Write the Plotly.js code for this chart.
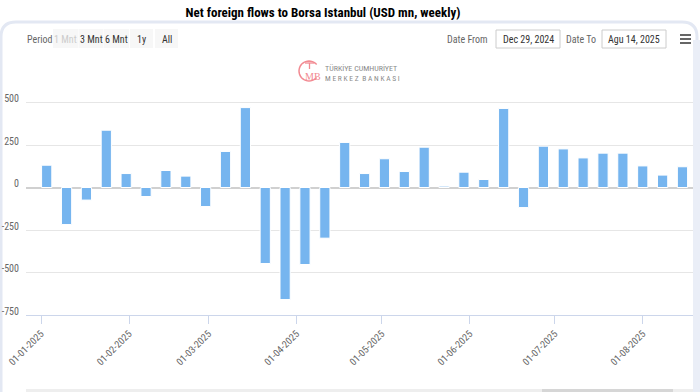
<!DOCTYPE html>
<html>
<head>
<meta charset="utf-8">
<script src="https://cdn.plot.ly/plotly-3.0.1.min.js"></script>
<style>
html,body{margin:0;padding:0;background:#fff;}
#chart{width:700px;height:392px;}
</style>
</head>
<body>
<div id="chart"></div>
<script>
// ---- data ----
var weekDates = [
  '2025-01-03','2025-01-10','2025-01-17','2025-01-24','2025-01-31',
  '2025-02-07','2025-02-14','2025-02-21','2025-02-28',
  '2025-03-07','2025-03-14','2025-03-21','2025-03-28',
  '2025-04-04','2025-04-11','2025-04-18','2025-04-25',
  '2025-05-02','2025-05-09','2025-05-16','2025-05-23','2025-05-30',
  '2025-06-06','2025-06-13','2025-06-20','2025-06-27',
  '2025-07-04','2025-07-11','2025-07-18','2025-07-25',
  '2025-08-01','2025-08-08','2025-08-15'
];
var netFlows = [
  131, -218, -74, 337, 82, -53, 100, 67, -112, 212, 470, -447, -659,
  -453, -298, 265, 82, 169, 94, 237, 8, 90, 47, 465, -118, 243, 227,
  174, 202, 202, 127, 73, 122
];
var yTickVals = [-750, -500, -250, 0, 250, 500, 750];
var yTickText = ['-750', '-500', '-250', '0', '250', '500', ''];
var periodButtons = ['1 Mnt', '3 Mnt', '6 Mnt', '1y', 'All'];
var dateFrom = 'Dec 29, 2024';
var dateTo = 'Agu 14, 2025';
var titleText = 'Net foreign flows to Borsa Istanbul (USD mn, weekly)';

// ---- geometry helpers (pixel -> paper) ----
var L = 26, R = 693, T = 60, B = 315;
function px(x){ return (x - L) / (R - L); }
function py(y){ return (B - y) / (B - T); }
function P(x,y){ return px(x) + ',' + py(y); }

var NARROW = '"Liberation Sans Narrow", "Roboto Condensed", Roboto, Arial, sans-serif';
var DAY = 86400000;

var trace = {
  type: 'bar',
  x: weekDates,
  y: netFlows,
  width: 3.6 * DAY,
  marker: { color: '#76b5ef', line: { color: '#ffffff', width: 1 } },
  hoverinfo: 'none'
};

var annotations = [];
var shapes = [];

function label(x, y, text, anchor, size, color, family){
  annotations.push({xref:'paper', yref:'paper', x: px(x), y: py(y), xanchor: anchor, yanchor:'middle',
    text: text, showarrow:false, font:{family: family || NARROW, size: size, color: color}});
}

// Period label
label(25, 39, 'Period', 'left', 10, '#666666');
// buttons
var btnX = [[53,78],[78.5,103.5],[104,129],[130,153],[155,178]];
periodButtons.forEach(function(t, i){
  var x0 = btnX[i][0], x1 = btnX[i][1];
  shapes.push({type:'rect', xref:'paper', yref:'paper', x0:px(x0), x1:px(x1), y0:py(29), y1:py(48),
    fillcolor:'#f7f7f7', line:{width:0}});
  label((x0+x1)/2, 39, t, 'center', 10, i === 0 ? '#cccccc' : '#333333');
});
// Date From / To
label(490, 39, 'Date From', 'right', 10, '#666666');
shapes.push({type:'rect', xref:'paper', yref:'paper', x0:px(496), x1:px(560), y0:py(30), y1:py(48),
  fillcolor:'#ffffff', line:{color:'#cccccc', width:1}});
label(528, 39, dateFrom, 'center', 10, '#333333');
label(598, 39, 'Date To', 'right', 10, '#666666');
shapes.push({type:'rect', xref:'paper', yref:'paper', x0:px(602), x1:px(666), y0:py(30), y1:py(48),
  fillcolor:'#ffffff', line:{color:'#cccccc', width:1}});
label(634, 39, dateTo, 'center', 10, '#333333');

// logo: C-shaped arc with T / MB
var cx = 309, cy = 71, r = 10;
var arcPath = '';
for (var a2 = 40; a2 <= 320; a2 += 10) {
  var t2 = a2 * Math.PI / 180;
  var xx = cx + r * Math.cos(t2);
  var yy = cy - r * Math.sin(t2);
  arcPath += (arcPath ? ' L ' : 'M ') + P(xx, yy);
}
shapes.push({type:'path', xref:'paper', yref:'paper', path: arcPath, line:{color:'#f28a92', width:1.5}});
shapes.push({type:'line', xref:'paper', yref:'paper', x0:px(305), x1:px(314), y0:py(63), y1:py(63),
  line:{color:'#f28a92', width:1.3}});
shapes.push({type:'line', xref:'paper', yref:'paper', x0:px(309.5), x1:px(309.5), y0:py(63), y1:py(69),
  line:{color:'#f28a92', width:1.3}});
label(313, 76, 'MB', 'center', 10, '#f28a92', '"Liberation Serif", serif');
label(323, 68.5, 'TÜRKİYE CUMHURİYET', 'left', 8, '#8a8a8a');
label(323, 78, 'M E R K E Z  B A N K A S I', 'left', 7.5, '#8a8a8a');

// panel border
shapes.push({type:'path', xref:'paper', yref:'paper', layer:'below',
  path: 'M ' + P(1,392) + ' L ' + P(1,37) + ' Q ' + P(1,22) + ' ' + P(16,22) +
        ' L ' + P(682,22) + ' Q ' + P(697,22) + ' ' + P(697,37) + ' L ' + P(697,392),
  line:{color:'#e3e8f3', width:3}});
shapes.push({type:'rect', xref:'paper', yref:'paper', layer:'below', x0:px(693), x1:px(700), y0:py(40), y1:py(392),
  fillcolor:'#eaeef7', line:{width:0}});
// hamburger
[35, 39, 43].forEach(function(y){
  shapes.push({type:'line', xref:'paper', yref:'paper', x0:px(680), x1:px(691), y0:py(y), y1:py(y),
    line:{color:'#666666', width:2}});
});
// scrollbar at bottom
shapes.push({type:'rect', xref:'paper', yref:'paper', x0:px(26), x1:px(693), y0:py(389), y1:py(393),
  fillcolor:'#eeeeee', line:{width:0}});
shapes.push({type:'rect', xref:'paper', yref:'paper', x0:px(542), x1:px(673), y0:py(389), y1:py(393),
  fillcolor:'#d6d6d6', line:{width:0}});

var layout = {
  width: 700, height: 392,
  margin: {l: L, r: 700 - R, t: T, b: 392 - B, pad: 0},
  paper_bgcolor: '#ffffff', plot_bgcolor: '#ffffff',
  showlegend: false,
  title: {
    text: '<b>' + titleText + '</b>',
    x: 323/700, xref: 'container', xanchor: 'center',
    y: 1 - 12/392, yref: 'container', yanchor: 'middle',
    font: {family: NARROW, size: 13, color: '#000000'}
  },
  xaxis: {
    type: 'date',
    range: ['2024-12-26 17:00', '2025-08-18 17:00'],
    tickmode: 'linear', tick0: '2025-01-01', dtick: 'M1',
    tickformat: '%d-%m-%Y',
    tickangle: -45,
    ticks: 'outside', ticklen: 8, tickcolor: '#ccd6eb', tickwidth: 1,
    showline: true, linecolor: '#ccd6eb', linewidth: 1,
    showgrid: false, zeroline: false,
    tickfont: {family: NARROW, size: 10, color: '#666666'}
  },
  yaxis: {
    range: [-750, 750],
    tickmode: 'array', tickvals: yTickVals, ticktext: yTickText,
    showgrid: true, gridcolor: '#e6e6e6', gridwidth: 1,
    zeroline: true, zerolinecolor: '#d0d0d0', zerolinewidth: 2,
    showline: false, ticks: '',
    ticklabelstandoff: 6, ticklabelshift: -4,
    tickfont: {family: NARROW, size: 10, color: '#666666'}
  },
  bargap: 0,
  annotations: annotations,
  shapes: shapes
};

Plotly.newPlot('chart', [trace], layout, {staticPlot: true, displayModeBar: false});
</script>
</body>
</html>
